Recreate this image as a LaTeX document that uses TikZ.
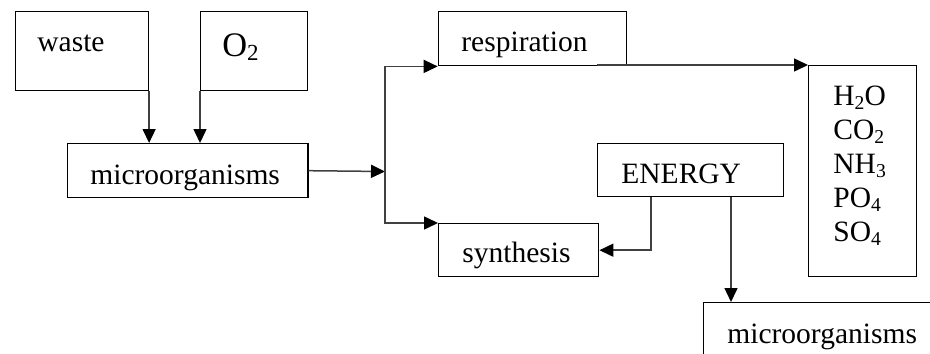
\documentclass[tikz,border=0pt]{standalone}
\usepackage{fontspec}
\setmainfont{Liberation Serif}
\usetikzlibrary{arrows.meta}
% chemical-formula subscript, set lower than \textsubscript
\newcommand\chemsub[1]{\raisebox{-2.4pt}{\fontsize{9.8}{10}\selectfont #1}}
\newcommand\bigchemsub[1]{\raisebox{-1.6pt}{\fontsize{11.5}{12}\selectfont #1}}
\begin{document}
\begin{tikzpicture}[x=0.5pt,y=-0.5pt,
  box/.style={draw=black, line width=0.7pt, inner sep=0pt, anchor=north west},
  txt/.style={anchor=base west, inner sep=0pt, font=\fontsize{14.75}{17}\selectfont},
  bigtxt/.style={anchor=base west, inner sep=0pt, font=\fontsize{17.2}{20}\selectfont},
  link/.style={draw=black!75, line width=0.75pt, -{Triangle[length=7pt,width=6.5pt,fill=black,color=black]}}
]
\useasboundingbox (0,0) rectangle (930,353);
\clip (0,0) rectangle (930,353);

% boxes
\node[box, minimum width=66.5pt, minimum height=39.5pt] (waste)  at (14.7,11) {};
\node[box, minimum width=53.5pt, minimum height=39.5pt] (o2)     at (200,11) {};
\node[box, minimum width=120.2pt, minimum height=27pt]  (micro)  at (66.7,143) {};
\node[box, minimum width=94pt,   minimum height=27pt]   (resp)   at (437.7,11) {};
\node[box, minimum width=93pt,   minimum height=26.5pt] (energy) at (597,143) {};
\node[box, minimum width=80pt,   minimum height=26.5pt] (synth)  at (438,223) {};
\node[box, minimum width=54pt,   minimum height=105.5pt] (chem)  at (808,65) {};
\node[box, minimum width=130pt,  minimum height=40pt]   (micro2) at (703,302) {};

% labels
\node[txt]    (twaste)  at (37,52)   {waste};
\node[bigtxt] (to2)     at (222,57)  {O\bigchemsub{2}};
\node[txt]    (tmicro)  at (90,184)  {microorganisms};
\node[txt]    (tresp)   at (461,52)  {respiration};
\node[txt]    (tenergy) at (621,183) {ENERGY};
\node[txt]    (tsynth)  at (462,262) {synthesis};
\node[txt]    (tmicro2) at (727,343) {microorganisms};
\node[txt] (th2o) at (833,105) {H\chemsub{2}O};
\node[txt] (tco2) at (833,139) {CO\chemsub{2}};
\node[txt] (tnh3) at (833,173) {NH\chemsub{3}};
\node[txt] (tpo4) at (833,207) {PO\chemsub{4}};
\node[txt] (tso4) at (833,241) {SO\chemsub{4}};

% connectors
\draw[link] (waste.south east) -- (waste.south east |- micro.north);
\draw[link] (o2.south west) -- (o2.south west |- micro.north);
\coordinate (split) at (385,171.5);
\draw[link] (micro.east) -- (split);
\draw[link] (split) |- (resp.south west);
\draw[link] (split) |- (synth.north west);
\draw[link] (energy.west |- chem.north west) -- (chem.north west);
\draw[link] ([xshift=27pt]energy.south west) |- (synth.east);
\draw[link] ([xshift=67pt]energy.south west) coordinate (edrop) -- (edrop |- micro2.north);
\end{tikzpicture}
\end{document}
